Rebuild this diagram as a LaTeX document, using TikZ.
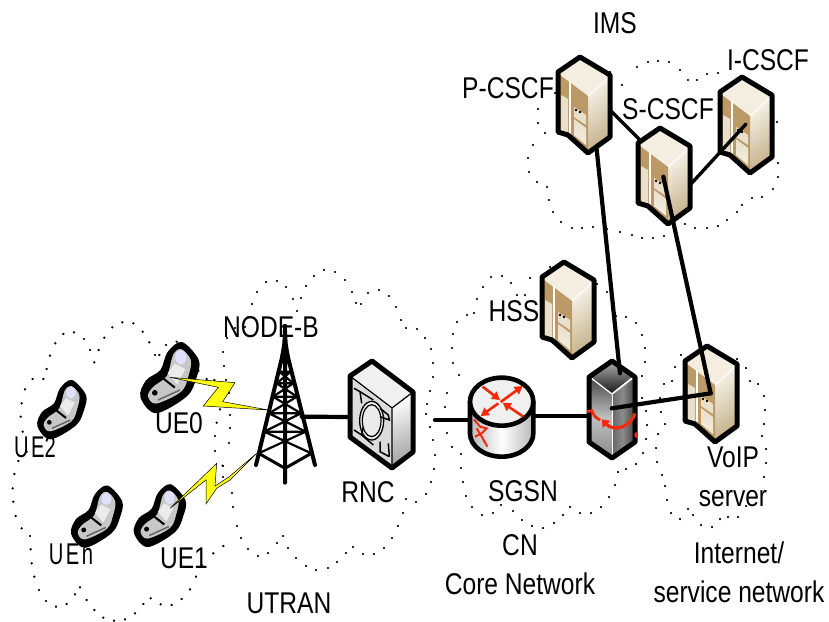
\documentclass[tikz,border=0pt]{standalone}
\usepackage{fontspec}
\setmainfont[FakeStretch=0.82]{Liberation Sans}
\usetikzlibrary{arrows.meta}
\definecolor{cream}{HTML}{F3EEE0}
\definecolor{tanbox}{HTML}{BC9A68}
\definecolor{tanlight}{HTML}{E9E0CC}
\definecolor{tandeep}{HTML}{C6B28C}
\definecolor{redarrow}{HTML}{F5280A}
\definecolor{boltyellow}{HTML}{FFFF14}
\tikzset{
  lbl/.style={inner sep=0pt,align=center,font=\fontsize{30}{39}\selectfont},
  clouddots/.style={only marks,mark=*,mark size=0.95pt},
  link/.style={line width=4.2pt,line cap=round},
  thinlink/.style={line width=3.4pt,line cap=round},
  bolt/.style={fill=boltyellow,draw=black,line width=0.5pt,line join=miter},
  outline/.style={line width=5pt,line join=round},
  zoomed/.style={x=0.33333pt,y=-0.33333pt},
  pics/server/.style={code={
    \fill[cream] (22,0)--(0,15)--(0,75)--(30,96)--(52,80)--(52,18)--cycle;
    \shade[left color=cream!70!white,right color=tandeep,shading angle=40] (30,38)--(50,20)--(50,80)--(30,94)--cycle;
    \fill[tanbox] (2,18)--(30,39)--(30,94)--(2,74)--cycle;
    \fill[tanlight] (3,38)--(10,42)--(10,78)--(3,73)--cycle;
    \draw[white,line width=1.6pt] (12,24)--(12,81);
    \draw[white,line width=1pt] (30,39)--(50,21);
    \fill[tanlight] (16,50)--(28,58)--(28,68)--(16,60)--cycle;
    \shade[top color=tanlight,bottom color=cream] (16,62)--(28,71)--(28,88)--(16,78)--cycle;
    \fill[black] (18,53) circle (1.3) (22,55) circle (1.3);
    \draw[outline] (22,0)--(0,15)--(0,75)--(10,78)--(30,96)--(52,80)--(52,18)--cycle;
  }},
  pics/phone/.style={code={
    \begin{scope}[zoomed]
    \fill[black] plot[smooth cycle,tension=0.55] coordinates {(30,-90)(72,-45)(66,0)(42,46)(-35,88)(-74,48)(-60,6)(-24,-20)(-6,-65)};
    \fill[black!22] plot[smooth cycle,tension=0.55] coordinates {(28,-72)(52,-45)(46,-5)(28,34)(-35,64)(-55,45)(-42,22)(-8,-5)(8,-58)};
    \fill[white!88!blue] (27,-52) ellipse (14 and 18);
    \fill[black!8] (-6,-12)--(12,-36)--(38,-22)--(18,16)--cycle;
    \draw[black,line width=2pt] (-22,-3)--(12,24);
    \draw[black!60,line width=1.5pt] (-30,55)--(25,30);
    \fill[black] (-38,37) circle (7);
    \end{scope}
  }},
}
\begin{document}
\begin{tikzpicture}[x=1pt,y=-1pt]
\useasboundingbox (0,0) rectangle (829,621);
% clouds
\draw plot[clouddots] coordinates {(600,68)(610,72)(622,85)(637,67)(648,62)(658,61)(669,62)(680,70)(688,80)(697,80)(707,74)(718,73)(773,108)(777,122)(773,134)(773,150)(778,163)(778,177)(773,189)(762,197)(752,198)(742,205)(737,212)(727,220)(718,226)(707,228)(695,228)(685,224)(675,232)(664,236)(653,238)(642,238)(632,235)(620,232)(607,229)(593,227)(582,228)(572,228)(561,222)(553,212)(549,200)(547,187)(537,182)(529,172)(528,158)(533,145)(545,133)(538,123)(538,109)(555,93)};
\begin{scope}[shift={(0,300)},zoomed]
\draw plot[clouddots] coordinates {(670,738)(640,760)(605,795)(588,830)(570,868)(545,897)(515,915)(482,913)(452,895)(430,912)(405,940)(375,958)(342,962)(310,953)(283,930)(260,900)(240,862)(225,883)(200,912)(168,920)(138,903)(117,870)(103,830)(95,790)(92,748)(90,708)(65,685)(47,648)(40,605)(38,565)(43,522)(55,483)(80,455)(68,395)(62,350)(65,310)(75,268)(98,237)(130,237)(140,207)(150,167)(166,130)(190,102)(222,97)(252,117)(270,150)(296,150)(283,187)(313,113)(337,82)(367,67)(400,70)(428,95)(448,127)(465,165)(478,165)(498,135)(530,125)(595,213)(620,237)(643,240)(665,270)(660,328)(650,368)(645,408)(645,453)(668,497)(690,535)};
\end{scope}
\draw plot[clouddots] coordinates {(223,352)(224,366)(226,380)(229,393)(230,415)(230,428)(229,443)(223,466)(223,477)(232,493)(233,507)(237,526)(241,538)(248,549)(258,556)(268,553)(277,543)(283,536)(288,548)(296,558)(306,566)(316,570)(328,568)(337,562)(346,553)(353,547)(363,554)(374,554)(384,548)(392,538)(398,526)(403,513)(406,499)(416,502)(426,494)(431,482)(434,469)(435,455)(433,440)(430,427)(426,414)(427,404)(430,391)(433,377)(433,363)(431,349)(425,338)(417,329)(406,328)(401,320)(396,307)(389,296)(379,290)(368,293)(361,304)(356,303)(352,292)(345,280)(335,272)(324,270)(314,276)(306,286)(297,311)(301,298)(293,299)(286,287)(277,281)(266,282)(257,292)(252,304)(248,317)(245,327)(235,328)(227,338)};
\draw plot[clouddots] coordinates {(445,407)(447,393)(459,375)(453,363)(452,348)(453,334)(457,322)(467,315)(474,313)(477,299)(483,287)(491,277)(502,276)(511,283)(517,295)(525,295)(530,278)(550,267)(597,284)(607,292)(616,316)(626,317)(636,323)(642,335)(645,348)(645,362)(642,376)(642,398)(646,411)(647,425)(646,439)(643,453)(636,464)(626,469)(618,472)(615,485)(609,497)(601,507)(591,513)(580,513)(570,507)(563,515)(554,523)(543,528)(532,526)(522,520)(513,511)(501,505)(493,513)(482,515)(472,507)(466,496)(463,482)(461,468)(461,454)(452,447)(447,433)};
\draw plot[clouddots] coordinates {(681,355)(675,367)(672,381)(664,384)(660,398)(661,412)(665,424)(658,434)(656,448)(657,462)(662,475)(665,486)(667,500)(671,513)(680,519)(688,509)(693,515)(701,525)(712,527)(720,519)(728,517)(738,517)(746,506)(764,477)(766,463)(766,449)(762,436)(764,424)(765,410)(764,396)(758,384)(750,381)(746,368)(737,359)(718,351)};
% servers
\pic (pcscf) at (558,57) {server};
\pic (scscf) at (638,128) {server};
\pic (icscf) at (720,77) {server};
\pic (hss) at (542,262) {server};
\pic (voip) at (685,346) {server};
% phones
\pic (ue2) at (62,410) {phone};
\pic[scale=1.2] (ue0) at (170,378) {phone};
\pic[scale=1.05] (uen) at (97,517) {phone};
\pic[scale=1.06] (ue1) at (160,516) {phone};
% tower
\begin{scope}[shift={(0,300)},zoomed]
\fill (850,72)--(860,72)--(863,130)--(870,175)--(840,175)--(847,130)--cycle;
\draw[line width=4pt,line cap=round] (849,160)--(768,495) (861,160)--(945,495) (855,160)--(855,548);
\foreach \ya/\wa/\yb/\wb in {215/17/250/25,250/25/290/36,290/36/340/48,340/48/395/62,395/62/460/79}{
  \draw[line width=2.2pt] (855-\wa,\ya)--(855+\wb,\yb) (855+\wa,\ya)--(855-\wb,\yb) (855-\wa,\ya)--(855+\wa,\ya);
}
\draw[line width=3pt] (776,460)--(855,505)--(934,460);
\coordinate (towerport) at (905,350);
\end{scope}
% bolts
\begin{scope}[shift={(0,300)},zoomed]
\filldraw[bolt] (510,232)--(705,248)--(668,305)--(805,330)--(610,318)--(655,262)--cycle;
\filldraw[bolt] (510,625)--(650,490)--(645,558)--(688,530)--(770,460)--(690,540)--(650,565)--(618,612)--(618,540)--cycle;
\end{scope}
% RNC
\shade[left color=white,right color=black!35,shading angle=20] (392,408)--(411,392)--(411,452)--(392,466)--cycle;
\fill[black!6] (372,363)--(352,377)--(392,408)--(411,392)--cycle;
\fill[black!14] (352,378)--(392,410)--(392,466)--(352,436)--cycle;
\begin{scope}[shift={(330,260)},zoomed]
\filldraw[fill=black!8,line width=1.3pt] (125,482) ellipse (36 and 58);
\draw[line width=1.2pt] (125,482) ellipse (28 and 48);
\draw[line width=1.5pt] (72,385)--(90,395)--(95,430) (90,395)--(130,420) (175,465)--(150,445) (175,465)--(178,480)--(150,470)
 (72,510)--(95,525)--(100,500) (95,525)--(130,555) (178,590)--(150,575)--(150,545) (178,590)--(175,550);
\end{scope}
\draw[outline] (372,361)--(350,376)--(350,437)--(392,468)--(413,452)--(413,392)--cycle;
\draw[line width=1.2pt] (350,376)--(392,408)--(392,468) (392,408)--(413,392);
% router
\begin{scope}[shift={(330,260)},zoomed]
\shade[left color=black!28,right color=black!28,middle color=white] (420,425)--(420,520) arc[start angle=180,end angle=0,x radius=95,y radius=70]--(610,425)--cycle;
\draw[line width=4.6pt] (420,425)--(420,520) arc[start angle=180,end angle=0,x radius=95,y radius=70]--(610,425);
\filldraw[fill=black!6,line width=4.6pt] (515,425) ellipse (95 and 72);
\begin{scope}[redarrow,line width=2.6pt,-{Triangle[width=9pt,length=8pt]}]
\draw (512,426)--(578,378);
\draw (458,380)--(510,420);
\draw (505,430)--(452,468);
\draw (580,470)--(518,428);
\end{scope}
\draw[redarrow,line width=2pt] (432,478)--(450,500)--(470,505)--(455,520)--(435,530) (440,505)--(458,535)--(472,560);
\coordinate (routerleft) at (418,480);
\coordinate (routerright) at (612,468);
\coordinate (rncout) at (315,480);
\end{scope}
% firewall
\shade[top color=black!70,bottom color=black!45,middle color=black!25] (591,379)--(612,395)--(612,456)--(591,441)--cycle;
\shade[left color=black!60,right color=black!70,middle color=black!45] (612,395)--(633,379)--(633,441)--(612,456)--cycle;
\shade[top color=black!35,bottom color=black!90] (612,363)--(591,377)--(612,393)--(633,377)--cycle;
\draw[white,line width=1.2pt] (613,393)--(632,378);
\draw[white,line width=0.6pt] (612,395)--(612,456);
\draw[outline] (612,361)--(589,377)--(589,442)--(612,458)--(635,442)--(635,377)--cycle;
\begin{scope}[shift={(330,260)},zoomed]
\coordinate (fwwest) at (775,468);
\coordinate (fwnorth) at (870,340);
\coordinate (fwcore) at (845,445);
\end{scope}
% connectors
\begin{scope}[shift={(440,0)},zoomed]
\coordinate (pout) at (470,448);
\coordinate (pright) at (512,332);
\coordinate (sleft) at (600,420);
\coordinate (sright) at (750,555);
\coordinate (icore) at (918,372);
\coordinate (score) at (670,530);
\end{scope}
\begin{scope}[shift={(600,330)},zoomed]
\coordinate (voipcore) at (332,190);
\end{scope}
\coordinate (rncwest) at (350,417);
\draw[link] (towerport)--(rncwest);
\draw[link] (rncout)--(routerleft);
\draw[link] (routerright)--(fwwest);
\draw[link] (pout)--(fwnorth);
\draw[thinlink] (pright)--(sleft);
\draw[thinlink] (sright)--(icore);
\draw[link] (score)--(voipcore);
\draw[link] (fwcore)--(voipcore);
% firewall arrows
\begin{scope}[shift={(330,260)},zoomed]
\draw[redarrow,line width=3.2pt,-{Triangle[width=10pt,length=7pt]}] (915,460) .. controls (900,505) and (850,515) .. (815,478);
\draw[redarrow,line width=2.8pt] (772,455)--(785,452)--(795,470)--(810,480);
\fill[redarrow] (918,525) ellipse (5 and 9);
\end{scope}
% labels
\node[lbl] (ims) at (615,23) {IMS};
\node[lbl] (pl) at (508,88) {P-CSCF};
\node[lbl] (sl) at (668,109) {S-CSCF};
\node[lbl] (il) at (768,60) {I-CSCF};
\node[lbl] (hl) at (514,311) {HSS};
\node[lbl] (nb) at (271,327) {NODE-B};
\node[lbl] (ue0l) at (179,423) {UE0};
\node[lbl] (ue2l) at (35,447) {\scalebox{0.82}[1]{U\kern3pt E2}};
\node[lbl] (uenl) at (71,554) {\scalebox{0.82}[1]{U\kern3pt E\kern3pt n}};
\node[lbl] (ue1l) at (184,558) {UE1};
\node[lbl] (ut) at (289,603) {UTRAN};
\node[lbl] (rl) at (368,492) {RNC};
\node[lbl] (sg) at (523,491) {SGSN};
\node[lbl] (cn) at (520,565) {CN\\Core Network};
\node[lbl] (vs) at (733,477) {VoIP\\server};
\node[lbl] (isn) at (739,572) {Internet/\\service network};
\end{tikzpicture}
\end{document}
